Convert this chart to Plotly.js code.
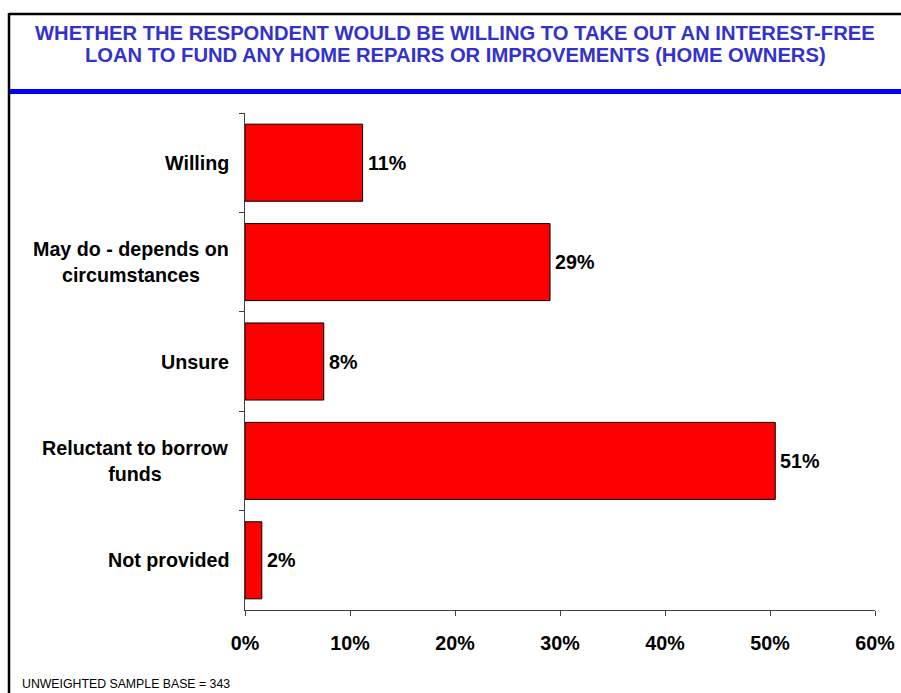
<!DOCTYPE html>
<html>
<head>
<meta charset="utf-8">
<script src="https://cdn.plot.ly/plotly-3.0.1.min.js"></script>
<style>
html,body{margin:0;padding:0;background:#fff;}
#chart{width:901px;height:693px;}
</style>
</head>
<body>
<div id="chart"></div>
<script>
// ---- data ----
var categories = ["Willing", "May do - depends on<br>circumstances", "Unsure", "Reluctant to borrow<br>funds", "Not provided"];
var values = [11.2, 29.05, 7.5, 50.5, 1.6];
var valueLabels = ["11%", "29%", "8%", "51%", "2%"];
var xTickVals = [0, 10, 20, 30, 40, 50, 60];
var xTickText = ["0%", "10%", "20%", "30%", "40%", "50%", "60%"];
var titleLines = ["WHETHER THE RESPONDENT WOULD BE WILLING TO TAKE OUT AN INTEREST-FREE",
                  "LOAN TO FUND ANY HOME REPAIRS OR IMPROVEMENTS (HOME OWNERS)"];
var footnote = "UNWEIGHTED SAMPLE BASE = 343";

// ---- layout geometry (pixels) ----
var W = 901, H = 693;
var L = 245, R = 875, T = 113, B = 610;
function px(x){ return (x - L) / (R - L); }
function py(y){ return (B - y) / (B - T); }

var FONT = "Arial, 'Liberation Sans', sans-serif";
var fs = 19.7;
var tfs = 20.2;

var trace = {
  type: "bar",
  orientation: "h",
  y: categories,
  x: values,
  marker: {color: "#FF0000", line: {color: "#000000", width: 1}},
  hoverinfo: "none"
};

var annotations = [
  {text: titleLines[0], xref: "paper", yref: "paper", x: px(455), y: py(33), xanchor: "center", yanchor: "middle", showarrow: false,
   font: {family: FONT, size: tfs, color: "#3333CC", weight: "bold"}},
  {text: titleLines[1], xref: "paper", yref: "paper", x: px(455), y: py(55), xanchor: "center", yanchor: "middle", showarrow: false,
   font: {family: FONT, size: tfs, color: "#3333CC", weight: "bold"}},
  {text: footnote, xref: "paper", yref: "paper", x: px(20), y: py(684), xanchor: "left", yanchor: "middle", showarrow: false,
   font: {family: FONT, size: 12.3, color: "#000"}}
];
categories.forEach(function(c, i){
  // category label, lines centred on each other
  annotations.push({text: c, xref: "paper", yref: "y", x: px(231), y: c, xanchor: "right", yanchor: "middle",
    align: "center", showarrow: false, font: {family: FONT, size: fs, color: "#000", weight: "bold"}});
  // value label
  annotations.push({text: valueLabels[i], xref: "x", yref: "y", x: values[i], y: c, xanchor: "left", yanchor: "middle",
    xshift: 3, showarrow: false, font: {family: FONT, size: fs, color: "#000", weight: "bold"}});
});

var layout = {
  width: W, height: H,
  paper_bgcolor: "#fff", plot_bgcolor: "#fff",
  margin: {l: L, r: W - R, t: T, b: H - B, pad: 0},
  showlegend: false,
  bargap: 0.225,
  font: {family: FONT, color: "#000"},
  xaxis: {
    range: [0, 60],
    tickvals: xTickVals, ticktext: xTickText,
    showgrid: false, zeroline: false,
    showline: true, linecolor: "#404040", linewidth: 1,
    ticks: "outside", ticklen: 5, tickcolor: "#404040", tickwidth: 1,
    ticklabelstandoff: 10,
    tickfont: {family: FONT, size: fs, color: "#000", weight: "bold"},
    fixedrange: true
  },
  yaxis: {
    type: "category",
    categoryorder: "array", categoryarray: categories,
    range: [4.5, -0.5],
    showgrid: false, zeroline: false,
    showline: true, linecolor: "#404040", linewidth: 1,
    ticks: "outside", ticklen: 5, tickcolor: "#404040", tickwidth: 1,
    tickson: "boundaries",
    showticklabels: false,
    fixedrange: true
  },
  shapes: [
    {type: "line", xref: "paper", yref: "paper", x0: px(9), x1: px(905), y0: py(14), y1: py(14), line: {color: "#000", width: 2.5}},
    {type: "line", xref: "paper", yref: "paper", x0: px(9), x1: px(9), y0: py(13), y1: py(700), line: {color: "#000", width: 2.5}},
    {type: "line", xref: "paper", yref: "paper", x0: px(10), x1: px(905), y0: py(91.5), y1: py(91.5), line: {color: "#0000FF", width: 5}}
  ],
  annotations: annotations
};

Plotly.newPlot("chart", [trace], layout, {displayModeBar: false, staticPlot: true});
</script>
</body>
</html>
